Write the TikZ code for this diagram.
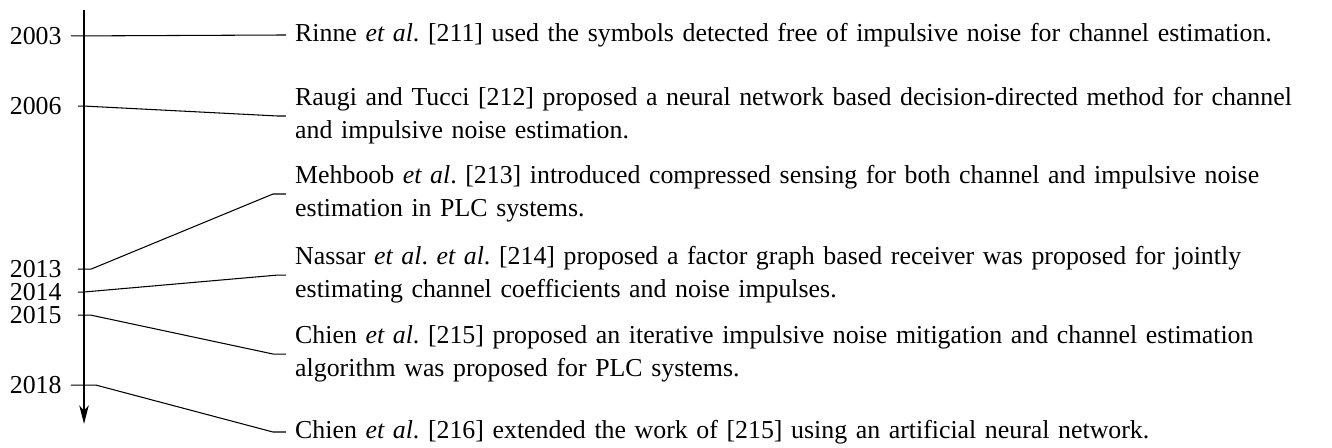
\documentclass[tikz,border=0pt]{standalone}
\usepackage{fontspec}
\setmainfont{Liberation Serif}
\usetikzlibrary{arrows.meta,positioning}
\hyphenpenalty=10000
\exhyphenpenalty=10000
\frenchspacing

\begin{document}
\begin{tikzpicture}[font=\fontsize{9.75}{12.45}\selectfont,yr/.style={anchor=east},item/.style={anchor=west,text width=383pt,align=left},link/.style={line width=0.4pt}]
\useasboundingbox (0,0) rectangle (17.66,-5.93);
\coordinate (top) at (1.114,-0.133);
\coordinate (bot) at (1.114,-5.62);
\draw[line width=0.5pt,-{Stealth[length=7pt,width=3.6pt,inset=2pt]}] (top) -- (bot);
\node[yr] (y03) at (0.94,-0.477) {2003};
\node[yr] (y06) at (0.94,-1.406) {2006};
\node[yr] (y13) at (0.94,-3.567) {2013};
\node[yr] (y14) at (0.94,-3.872) {2014};
\node[yr] (y15) at (0.94,-4.177) {2015};
\node[yr] (y18) at (0.94,-5.105) {2018};
\node[item] (e03) at (3.79,-0.464) {Rinne \emph{et al}. [211] used the symbols detected free of impulsive noise for channel estimation.};
\node[item] (e06) at (3.79,-1.538) {Raugi and Tucci [212] proposed a neural network based decision-directed method for channel and impulsive noise estimation.};
\node[item] (e13) at (3.79,-2.572) {Mehboob \emph{et al}. [213] introduced compressed sensing for both channel and impulsive noise estimation in PLC systems.};
\node[item] (e14) at (3.79,-3.647) {Nassar \emph{et al}. \emph{et al}. [214] proposed a factor graph based receiver was proposed for jointly estimating channel coefficients and noise impulses.};
\node[item] (e15) at (3.79,-4.694) {Chien \emph{et al}. [215] proposed an iterative impulsive noise mitigation and channel estimation algorithm was proposed for PLC systems.};
\node[item] (e18) at (3.79,-5.728) {Chien \emph{et al}. [216] extended the work of [215] using an artificial neural network.};
\draw[link] (y03.east) -- (e03.west);
\draw[link,shorten <=2.6pt] (y06.east) -- ++(0.17,0) -- ([xshift=-0.11cm]e06.west) -- (e06.west);
\draw[link,shorten <=2.6pt] (y13.east) -- ++(0.27,0) -- ([xshift=-0.17cm]e13.west) -- (e13.west);
\draw[link,shorten <=2.6pt] (y14.east) -- ++(0.17,0) -- ([xshift=-0.11cm]e14.west) -- (e14.west);
\draw[link,shorten <=2.6pt] (y15.east) -- ++(0.26,0) -- ([xshift=-0.17cm]e15.west) -- (e15.west);
\draw[link] (y18.east) -- ++(0.33,0) -- ([xshift=-0.17cm]e18.west) -- (e18.west);
\end{tikzpicture}
\end{document}
